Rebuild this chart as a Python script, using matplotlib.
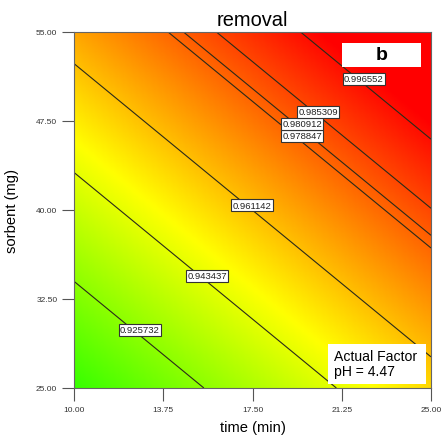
import numpy as np
import matplotlib
matplotlib.use("Agg")
import matplotlib.pyplot as plt
from matplotlib.colors import LinearSegmentedColormap
from matplotlib.patches import Rectangle

# Response-surface model: removal = b0 + b_time * time + b_sorbent * sorbent
model_coef = {"intercept": 0.82833, "time": 0.00318, "sorbent": 0.00193}

time_ticks = [10.00, 13.75, 17.50, 21.25, 25.00]
sorbent_ticks = [25.00, 32.50, 40.00, 47.50, 55.00]

contour_levels = [0.925732, 0.943437, 0.961142, 0.978847, 0.980912, 0.985309, 0.996552]
# where each contour label sits (time, sorbent)
label_time = [12.77, 15.59, 17.48, 19.58, 19.58, 20.25, 22.18]
label_sorbent = [29.89, 34.44, 40.42, 46.24, 47.25, 48.26, 51.04]

ph_value = 4.47

plt.rcParams["font.family"] = ["Liberation Sans", "DejaVu Sans"]

fig = plt.figure(figsize=(4.44, 4.39), dpi=100)
ax = fig.add_axes([74 / 444, 1 - 389 / 439, 357 / 444, 356 / 439])

t = np.linspace(time_ticks[0], time_ticks[-1], 300)
s = np.linspace(sorbent_ticks[0], sorbent_ticks[-1], 300)
T, S = np.meshgrid(t, s)
Z = model_coef["intercept"] + model_coef["time"] * T + model_coef["sorbent"] * S

cmap = LinearSegmentedColormap.from_list(
    "gyr", [(0.0, "#00ff00"), (0.5, "#ffff00"), (1.0, "#ff0000")])
ax.imshow(Z, origin="lower", aspect="auto", cmap=cmap, vmin=0.8975, vmax=0.9995,
          extent=[t[0], t[-1], s[0], s[-1]], interpolation="bilinear", zorder=0)
ax.contour(T, S, Z, levels=contour_levels, colors="#2a2a1a", linewidths=0.8, zorder=1)

for lv, lt, ls in zip(contour_levels, label_time, label_sorbent):
    ax.text(lt, ls, f"{lv:.6f}", fontsize=6.8, ha="center", va="center", zorder=3,
            color="#222222",
            bbox=dict(boxstyle="square,pad=0.12", fc="white", ec="#333333", lw=0.8))

ax.set_xlim(time_ticks[0], time_ticks[-1])
ax.set_ylim(sorbent_ticks[0], sorbent_ticks[-1])
ax.set_xticks(time_ticks)
ax.set_yticks(sorbent_ticks)
ax.set_xticklabels([f"{v:.2f}" for v in time_ticks])
ax.set_yticklabels([f"{v:.2f}" for v in sorbent_ticks])
ax.tick_params(axis="both", direction="out", length=9, width=0.8, color="#555555",
               labelsize=6, labelcolor="#333333")
ax.tick_params(axis="x", pad=4)
ax.tick_params(axis="y", pad=3)
for sp in ax.spines.values():
    sp.set_color("#666666")
    sp.set_linewidth(0.8)

ax.set_title("removal", fontsize=14.4, pad=5)
ax.set_xlabel("time (min)", fontsize=10.6, labelpad=5)
ax.set_ylabel("sorbent (mg)", fontsize=10.6, labelpad=12)

# panel tag
ax.add_patch(Rectangle((0.751, 0.902), 0.221, 0.067, transform=ax.transAxes,
                       fc="white", ec="none", zorder=4))
ax.text(0.8615, 0.936, "b", transform=ax.transAxes, fontsize=14, fontweight="bold",
        ha="center", va="center", zorder=5)

# factor box
ax.add_patch(Rectangle((0.711, 0.011), 0.275, 0.113, transform=ax.transAxes,
                       fc="white", ec="none", zorder=4))
ax.text(0.728, 0.068, f"Actual Factor\npH = {ph_value:.2f}", transform=ax.transAxes,
        fontsize=10.1, ha="left", va="center", linespacing=1.1, zorder=5)

fig.savefig("out.png", dpi=100)
